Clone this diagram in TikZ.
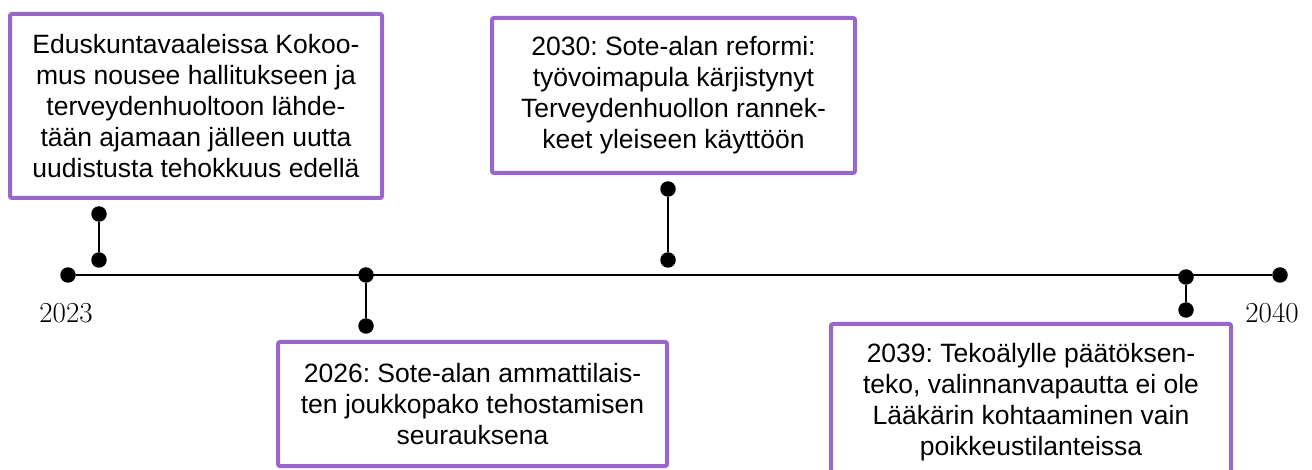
\documentclass[tikz,border=0pt]{standalone}
\usepackage{fontspec}
\newfontfamily\boxfont{Liberation Sans}
\definecolor{eventpurple}{RGB}{153,102,204}
\frenchspacing
\begin{document}
\begin{tikzpicture}[x=1pt,y=-1pt,
  dot/.style={circle,fill=black,inner sep=0pt,minimum size=15.5pt},
  eventbox/.style={draw=eventpurple,line width=4pt,rounded corners=2pt,fill=white,
    align=center,inner sep=0pt,font=\boxfont\fontsize{26.5}{31}\selectfont},
  link/.style={line width=1.8pt},
  yearlabel/.style={font=\fontsize{29}{32}\selectfont,inner sep=0pt}]
\clip (0,0) rectangle (1312,470);

% timeline end points
\node[dot] (start) at (68,275) {};
\node[dot] (stop) at (1280,275) {};
\draw[link] (start) -- (stop);
\node[yearlabel] (y2023) at (66,313) {2023};
\node[yearlabel] (y2040) at (1272,313) {2040};

% event markers
\node[dot] (e1a) at (99,214) {};
\node[dot] (e1b) at (99,260) {};
\draw[link] (e1a) -- (e1b);

\node[dot] (e2a) at (366,275) {};
\node[dot] (e2b) at (366,326) {};
\draw[link] (e2a) -- (e2b);

\node[dot] (e3a) at (668,189) {};
\node[dot] (e3b) at (668,260) {};
\draw[link] (e3a) -- (e3b);

\node[dot] (e4a) at (1186,277) {};
\node[dot] (e4b) at (1186,310) {};
\draw[link] (e4a) -- (e4b);

% event boxes
\node[eventbox,minimum width=372pt,minimum height=184pt] (b1) at (196,106)
  {Eduskuntavaaleissa Kokoo-\\mus nousee hallitukseen ja\\terveydenhuoltoon lähde-\\tään ajamaan jälleen uutta\\uudistusta tehokkuus edellä};
\node[eventbox,minimum width=389pt,minimum height=124pt] (b2) at (472.5,404)
  {2026: Sote-alan ammattilais-\\ten joukkopako tehostamisen\\seurauksena};
\node[eventbox,minimum width=363pt,minimum height=155pt] (b3) at (673.5,95.5)
  {2030: Sote-alan reformi:\\työvoimapula kärjistynyt\\Terveydenhuollon rannek-\\keet yleiseen käyttöön};
\node[eventbox,minimum width=400pt,minimum height=156pt] (b4) at (1031,402)
  {2039: Tekoälylle päätöksen-\\teko, valinnanvapautta ei ole\\Lääkärin kohtaaminen vain\\poikkeustilanteissa};
\end{tikzpicture}
\end{document}
